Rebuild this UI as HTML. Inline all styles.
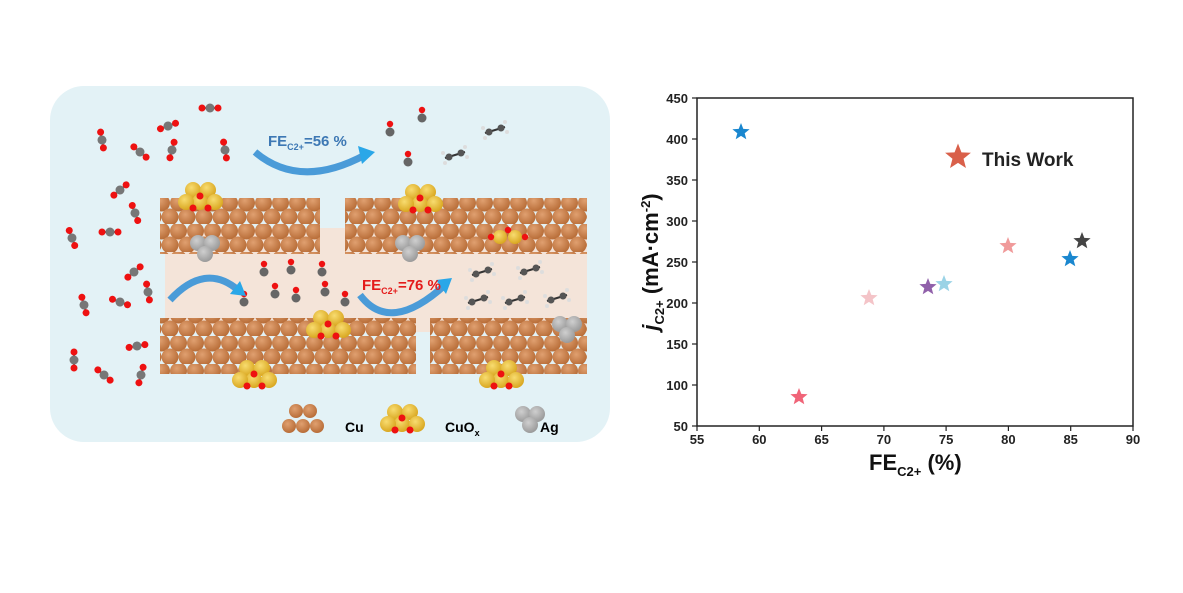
<!DOCTYPE html>
<html><head><meta charset="utf-8"><style>
body{margin:0;background:#fff;width:1183px;height:593px;overflow:hidden}
svg{display:block;font-family:"Liberation Sans",sans-serif}
</style></head><body>
<svg width="1183" height="593" viewBox="0 0 1183 593">
<defs>
<radialGradient id="cu" cx="40%" cy="35%" r="65%"><stop offset="0" stop-color="#e0a070"/><stop offset="1" stop-color="#b86d38"/></radialGradient>
<radialGradient id="au" cx="40%" cy="35%" r="65%"><stop offset="0" stop-color="#f8dc70"/><stop offset="1" stop-color="#d9a720"/></radialGradient>
<radialGradient id="ag" cx="40%" cy="35%" r="65%"><stop offset="0" stop-color="#cfcfcf"/><stop offset="1" stop-color="#9a9a9a"/></radialGradient>
<pattern id="cub" width="17" height="28" patternUnits="userSpaceOnUse">
<circle cx="8.5" cy="7" r="8.5" fill="url(#cu)"/><circle cx="0" cy="21" r="8.5" fill="url(#cu)"/><circle cx="17" cy="21" r="8.5" fill="url(#cu)"/>
</pattern>
<g id="co2"><line x1="-8" y1="0" x2="8" y2="0" stroke="#555" stroke-width="2"/><circle cx="-8" cy="0" r="3.5" fill="#e11"/><circle cx="0" cy="0" r="4.5" fill="#777"/><circle cx="8" cy="0" r="3.5" fill="#e11"/></g>
<g id="co"><circle cx="0" cy="-6" r="3.2" fill="#e11"/><circle cx="0" cy="2" r="4.5" fill="#666"/></g>
<g id="cuox"><circle cx="-9" cy="0" r="8" fill="url(#au)"/><circle cx="6" cy="0" r="8" fill="url(#au)"/><circle cx="-2" cy="12" r="8" fill="url(#au)"/><circle cx="13" cy="12" r="8" fill="url(#au)"/><circle cx="-16" cy="12" r="8" fill="url(#au)"/><circle cx="-2" cy="6" r="3.5" fill="#e11"/><circle cx="-9" cy="18" r="3.5" fill="#e11"/><circle cx="6" cy="18" r="3.5" fill="#e11"/></g>
<g id="agc"><circle cx="-7" cy="0" r="8" fill="url(#ag)"/><circle cx="7" cy="0" r="8" fill="url(#ag)"/><circle cx="0" cy="11" r="8" fill="url(#ag)"/></g>
<polygon id="st" points="0,-9 2.3,-3.1 8.6,-2.8 3.7,1.2 5.3,7.3 0,3.9 -5.3,7.3 -3.7,1.2 -8.6,-2.8 -2.3,-3.1"/>
<g id="hc"><line x1="-10" y1="3" x2="10" y2="-3" stroke="#333" stroke-width="2"/><circle cx="-6" cy="2" r="3.5" fill="#555"/><circle cx="6" cy="-2" r="3.5" fill="#555"/><circle cx="-12" cy="-2" r="2" fill="#ddd"/><circle cx="12" cy="2" r="2" fill="#ddd"/><circle cx="-10" cy="8" r="2" fill="#ddd"/><circle cx="10" cy="-8" r="2" fill="#ddd"/></g>
</defs>
<rect x="50" y="86" width="560" height="356" rx="34" fill="#e3f2f6"/>
<rect x="165" y="228" width="422" height="104" fill="#f5e2d6" opacity="0.9"/>
<rect x="160" y="198" width="160" height="56" fill="url(#cub)"/>
<rect x="345" y="198" width="242" height="56" fill="url(#cub)"/>
<rect x="160" y="318" width="256" height="56" fill="url(#cub)"/>
<rect x="430" y="318" width="157" height="56" fill="url(#cub)"/>
<use href="#cuox" x="202" y="190"/><use href="#cuox" x="422" y="192"/><use href="#cuox" x="330" y="318"/><use href="#cuox" x="256" y="368"/><use href="#cuox" x="503" y="368"/>
<use href="#agc" x="205" y="243"/><use href="#agc" x="410" y="243"/><use href="#agc" x="567" y="324"/>
<g fill="url(#au)"><circle cx="500" cy="237" r="7"/><circle cx="515" cy="237" r="7"/></g><circle cx="508" cy="230" r="3.2" fill="#e11"/><circle cx="491" cy="237" r="3.2" fill="#e11"/><circle cx="525" cy="237" r="3.2" fill="#e11"/>
<use href="#co2" x="210" y="108"/><use href="#co2" x="168" y="126" transform="rotate(-20 168 126)"/><use href="#co2" x="102" y="140" transform="rotate(80 102 140)"/><use href="#co2" x="140" y="152" transform="rotate(40 140 152)"/><use href="#co2" x="172" y="150" transform="rotate(-75 172 150)"/><use href="#co2" x="225" y="150" transform="rotate(80 225 150)"/><use href="#co2" x="120" y="190" transform="rotate(-40 120 190)"/><use href="#co2" x="135" y="213" transform="rotate(70 135 213)"/><use href="#co2" x="110" y="232"/><use href="#co2" x="72" y="238" transform="rotate(70 72 238)"/><use href="#co2" x="134" y="272" transform="rotate(-40 134 272)"/><use href="#co2" x="148" y="292" transform="rotate(80 148 292)"/><use href="#co2" x="84" y="305" transform="rotate(75 84 305)"/><use href="#co2" x="120" y="302" transform="rotate(20 120 302)"/><use href="#co2" x="137" y="346" transform="rotate(-10 137 346)"/><use href="#co2" x="74" y="360" transform="rotate(90 74 360)"/><use href="#co2" x="104" y="375" transform="rotate(40 104 375)"/><use href="#co2" x="141" y="375" transform="rotate(-75 141 375)"/>
<use href="#co" x="264" y="270"/><use href="#co" x="291" y="268"/><use href="#co" x="322" y="270"/><use href="#co" x="275" y="292"/><use href="#co" x="296" y="296"/><use href="#co" x="325" y="290"/><use href="#co" x="345" y="300"/><use href="#co" x="244" y="300"/><use href="#co" x="422" y="116"/><use href="#co" x="390" y="130"/><use href="#co" x="408" y="160"/>
<use href="#hc" x="455" y="155"/><use href="#hc" x="495" y="130"/><use href="#hc" x="482" y="272"/><use href="#hc" x="530" y="270"/><use href="#hc" x="478" y="300"/><use href="#hc" x="515" y="300"/><use href="#hc" x="557" y="298"/>
<path d="M255,152 Q300,190 365,155" fill="none" stroke="#4a9bd8" stroke-width="7"/><polygon points="358,146 375,152 362,164" fill="#2aa7e8"/>
<path d="M170,300 Q205,262 238,290" fill="none" stroke="#4a9bd8" stroke-width="7"/><polygon points="230,294 246,296 240,281" fill="#2aa7e8"/>
<path d="M360,295 Q390,335 445,285" fill="none" stroke="#4a9bd8" stroke-width="7"/><polygon points="436,280 452,278 446,294" fill="#2aa7e8"/>
<text x="268" y="146" font-size="15" font-weight="bold" fill="#3d78b4">FE<tspan font-size="9" dy="4">C2+</tspan><tspan dy="-4">=56 %</tspan></text>
<text x="362" y="290" font-size="15" font-weight="bold" fill="#e41b1b">FE<tspan font-size="9" dy="4">C2+</tspan><tspan dy="-4">=76 %</tspan></text>
<g fill="url(#cu)"><circle cx="296" cy="411" r="7"/><circle cx="310" cy="411" r="7"/><circle cx="289" cy="426" r="7"/><circle cx="303" cy="426" r="7"/><circle cx="317" cy="426" r="7"/></g>
<text x="345" y="432" font-size="14" font-weight="bold">Cu</text>
<use href="#cuox" x="404" y="412"/>
<text x="445" y="432" font-size="14" font-weight="bold">CuO<tspan font-size="9" dy="4">x</tspan></text>
<use href="#agc" x="530" y="414"/>
<text x="540" y="432" font-size="14" font-weight="bold">Ag</text>

<rect x="697" y="98" width="436" height="328" fill="none" stroke="#222" stroke-width="1.5"/>
<g stroke="#222" stroke-width="1.2">
<line x1="697" y1="426" x2="697" y2="431"/><line x1="759.3" y1="426" x2="759.3" y2="431"/><line x1="821.6" y1="426" x2="821.6" y2="431"/><line x1="883.9" y1="426" x2="883.9" y2="431"/><line x1="946.1" y1="426" x2="946.1" y2="431"/><line x1="1008.4" y1="426" x2="1008.4" y2="431"/><line x1="1070.7" y1="426" x2="1070.7" y2="431"/><line x1="1133" y1="426" x2="1133" y2="431"/>
<line x1="692" y1="98" x2="697" y2="98"/><line x1="692" y1="139" x2="697" y2="139"/><line x1="692" y1="180" x2="697" y2="180"/><line x1="692" y1="221" x2="697" y2="221"/><line x1="692" y1="262" x2="697" y2="262"/><line x1="692" y1="303" x2="697" y2="303"/><line x1="692" y1="344" x2="697" y2="344"/><line x1="692" y1="385" x2="697" y2="385"/><line x1="692" y1="426" x2="697" y2="426"/>
</g>
<g font-size="13" font-weight="bold" fill="#222" text-anchor="middle">
<text x="697" y="444">55</text><text x="759.3" y="444">60</text><text x="821.6" y="444">65</text><text x="883.9" y="444">70</text><text x="946.1" y="444">75</text><text x="1008.4" y="444">80</text><text x="1070.7" y="444">85</text><text x="1133" y="444">90</text>
</g>
<g font-size="13" font-weight="bold" fill="#222" text-anchor="end">
<text x="688" y="103">450</text><text x="688" y="144">400</text><text x="688" y="185">350</text><text x="688" y="226">300</text><text x="688" y="267">250</text><text x="688" y="308">200</text><text x="688" y="349">150</text><text x="688" y="390">100</text><text x="688" y="431">50</text>
</g>
<text x="869" y="470" font-size="22" font-weight="bold" fill="#111">FE<tspan font-size="13" dy="6">C2+</tspan><tspan dy="-6"> (%)</tspan></text>
<text transform="translate(658,262) rotate(-90)" text-anchor="middle" font-size="22" font-weight="bold" fill="#111"><tspan font-style="italic">j</tspan><tspan font-size="13" dy="6">C2+</tspan><tspan dy="-6"> (mA·cm</tspan><tspan font-size="13" dy="-8">-2</tspan><tspan dy="8">)</tspan></text>
<use href="#st" x="741" y="132" fill="#1a87cf"/>
<use href="#st" x="799" y="397" fill="#f06478"/>
<use href="#st" x="869" y="298" fill="#f4c4c8"/>
<use href="#st" x="928" y="287" fill="#9060aa"/>
<use href="#st" x="944" y="284" fill="#9ad3e6"/>
<use href="#st" x="1008" y="246" fill="#f09a9a"/>
<use href="#st" x="1070" y="259" fill="#1a87cf"/>
<use href="#st" x="1082" y="241" fill="#444"/>
<use href="#st" x="958" y="157" fill="#d9604a" transform="translate(958 157) scale(1.5) translate(-958 -157)"/>
<text x="982" y="166" font-size="19" font-weight="bold" fill="#222">This Work</text>
</svg>
</body></html>
